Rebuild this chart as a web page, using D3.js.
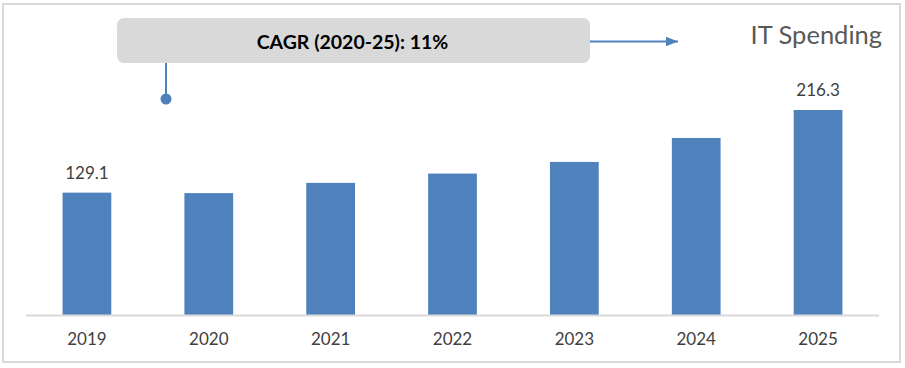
<!DOCTYPE html>
<html>
<head>
<meta charset="utf-8">
<script src="https://cdn.jsdelivr.net/npm/d3@7/dist/d3.min.js"></script>
<style>
  html, body { margin: 0; padding: 0; background: #ffffff; }
  svg { display: block; }
</style>
</head>
<body>
<svg id="chart" width="905" height="368"></svg>
<script>
const categories = ["2019", "2020", "2021", "2022", "2023", "2024", "2025"];
const values = [129.1, 128.6, 139.4, 149.2, 161.5, 186.8, 216.3];
const labelledYears = ["2019", "2025"];
const title = "IT Spending";
const cagrText = "CAGR (2020-25): 11%";

const svg = d3.select("#chart");
const font = "Lato, 'Open Sans', sans-serif";

// outer frame
svg.append("rect")
  .attr("x", 3).attr("y", 4).attr("width", 897).attr("height", 358)
  .attr("fill", "#ffffff").attr("stroke", "#d9d9d9").attr("stroke-width", 2);

const baseline = 315;
const x = d3.scaleBand().domain(categories).range([26, 879]).paddingInner(0.6).paddingOuter(0.3);
const y = d3.scaleLinear().domain([0, 216.3]).range([baseline, 110]);

// bars
svg.append("g").selectAll("rect")
  .data(categories)
  .join("rect")
  .attr("x", d => x(d))
  .attr("width", x.bandwidth())
  .attr("y", (d, i) => y(values[i]))
  .attr("height", (d, i) => baseline - y(values[i]))
  .attr("fill", "#4f81bd");

// x axis
const xAxis = d3.axisBottom(x).tickSize(0).tickPadding(18);
const gx = svg.append("g").attr("transform", `translate(0,${baseline})`).call(xAxis);
gx.select(".domain").attr("stroke", "#d9d9d9").attr("stroke-width", 2)
  .attr("d", "M26,0.5H879");
gx.selectAll("text")
  .attr("font-family", font).attr("font-size", 17).attr("fill", "#404040");

// data labels
svg.append("g").selectAll("text")
  .data(categories.filter(c => labelledYears.includes(c)))
  .join("text")
  .attr("x", d => x(d) + x.bandwidth() / 2)
  .attr("y", d => y(values[categories.indexOf(d)]) - 14)
  .attr("text-anchor", "middle")
  .attr("font-family", font).attr("font-size", 17).attr("fill", "#404040")
  .text(d => values[categories.indexOf(d)].toFixed(1));

// CAGR callout box
svg.append("line")
  .attr("x1", 166).attr("y1", 63).attr("x2", 166).attr("y2", 99)
  .attr("stroke", "#4f81bd").attr("stroke-width", 2);
svg.append("circle").attr("cx", 166).attr("cy", 99).attr("r", 5.5).attr("fill", "#4f81bd");

svg.append("rect")
  .attr("x", 117).attr("y", 18).attr("width", 473).attr("height", 45)
  .attr("rx", 7).attr("ry", 7)
  .attr("fill", "#d9d9d9");
svg.append("text")
  .attr("x", 352.5).attr("y", 49)
  .attr("text-anchor", "middle")
  .attr("font-family", font).attr("font-size", 19.5).attr("font-weight", "bold")
  .attr("fill", "#000000")
  .text(cagrText);

// arrow
svg.append("defs").append("marker")
  .attr("id", "arrow").attr("viewBox", "0 0 10 10")
  .attr("refX", 10).attr("refY", 5)
  .attr("markerWidth", 6).attr("markerHeight", 6)
  .attr("markerUnits", "strokeWidth")
  .attr("orient", "auto")
  .append("path").attr("d", "M0,1 L10,5 L0,9 Z").attr("fill", "#4f81bd");
svg.append("line")
  .attr("x1", 590).attr("y1", 41.5).attr("x2", 678).attr("y2", 41.5)
  .attr("stroke", "#4f81bd").attr("stroke-width", 2)
  .attr("marker-end", "url(#arrow)");

// title
svg.append("text")
  .attr("x", 882).attr("y", 44)
  .attr("text-anchor", "end")
  .attr("font-family", font).attr("font-size", 25.5)
  .attr("fill", "#595959")
  .text(title);
</script>
</body>
</html>
